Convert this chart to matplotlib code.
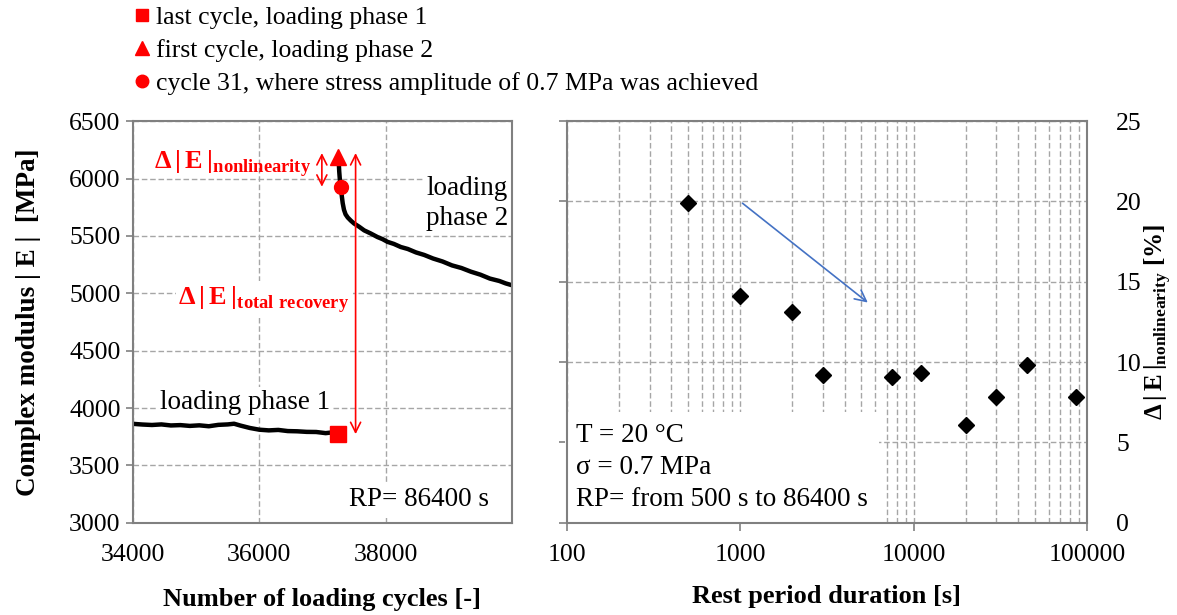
import matplotlib
matplotlib.use("Agg")
import matplotlib.pyplot as plt
from matplotlib.lines import Line2D
from matplotlib.ticker import MultipleLocator, LogLocator, NullFormatter, FixedLocator

plt.rcParams['font.family'] = ['Liberation Serif', 'DejaVu Serif']
plt.rcParams['mathtext.fontset'] = 'custom'
plt.rcParams['mathtext.rm'] = 'Liberation Serif'
plt.rcParams['mathtext.bf'] = 'Liberation Serif:bold'

# left chart: complex modulus vs cycles
cycles_p1 = [34000, 34150, 34300, 34450, 34600, 34750, 34900, 35050, 35200, 35350,
             35500, 35600, 35700, 35850, 36000, 36150, 36300, 36450, 36600, 36750,
             36900, 37050, 37150, 37230]
modulus_p1 = [3862, 3856, 3852, 3857, 3848, 3851, 3844, 3849, 3841, 3853,
              3857, 3863, 3847, 3826, 3811, 3805, 3809, 3799, 3797, 3792,
              3791, 3781, 3787, 3778]
cycles_p2 = [37255, 37265, 37275, 37290, 37305, 37320, 37340, 37365, 37400, 37450,
             37500, 37580, 37660, 37760, 37870, 37950, 38030, 38130, 38240, 38350,
             38480, 38610, 38750, 38900, 39050, 39200, 39350, 39500, 39650, 39800,
             39900, 40000]
modulus_p2 = [6165, 6060, 5990, 5925, 5850, 5785, 5728, 5688, 5660, 5632,
              5608, 5580, 5548, 5522, 5490, 5472, 5448, 5430, 5403, 5386,
              5356, 5334, 5303, 5277, 5243, 5220, 5188, 5162, 5128, 5107,
              5086, 5070]
last_p1 = (37240, 3770)
first_p2 = (37250, 6190)
cycle31 = (37295, 5925)
arrow_nonlin_x, arrow_nonlin_y = 36990, (6246, 5904)
arrow_total_x, arrow_total_y = 37524, (6246, 3748)

# right chart: nonlinearity vs rest period
rest_period = [500, 1000, 2000, 3000, 7500, 11000, 20000, 30000, 45000, 86400]
nonlinearity = [19.9, 14.1, 13.1, 9.2, 9.1, 9.35, 6.1, 7.85, 9.8, 7.85]
trend_start = (1000, 20.0)
trend_end = (5600, 13.6)

legend_labels = ['last cycle, loading phase 1',
                 'first cycle, loading phase 2',
                 'cycle 31, where stress amplitude of 0.7 MPa was achieved']

red = '#ff0000'
gray_spine = '#808080'
grid_kw = dict(color='#a6a6a6', linestyle=(0, (4, 2)), linewidth=1.0)
tick_fs = 18.5

fig = plt.figure(figsize=(11.77, 6.15), dpi=100)
ax1 = fig.add_axes([0.113, 0.150, 0.322, 0.653])
ax2 = fig.add_axes([0.4817, 0.150, 0.4418, 0.653])

for ax in (ax1, ax2):
    for sp in ax.spines.values():
        sp.set_color(gray_spine)
        sp.set_linewidth(1.5)
        sp.set_zorder(6)
    ax.set_axisbelow(True)

# ---- left chart
ax1.plot(cycles_p1, modulus_p1, color='black', lw=3.2, zorder=3)
ax1.plot(cycles_p2, modulus_p2, color='black', lw=3.2, zorder=3)
ax1.plot(*last_p1, marker='s', color=red, ms=11, zorder=4)
ax1.plot(*first_p2, marker='^', color=red, ms=12, zorder=4)
ax1.plot(*cycle31, marker='o', color=red, ms=10, zorder=4)

ax1.annotate('', xy=(arrow_nonlin_x, arrow_nonlin_y[1]), xytext=(arrow_nonlin_x, arrow_nonlin_y[0]),
             arrowprops=dict(arrowstyle='<->', color=red, lw=1.2, mutation_scale=18), zorder=5)
ax1.annotate('', xy=(arrow_total_x, arrow_total_y[1]), xytext=(arrow_total_x, arrow_total_y[0]),
             arrowprops=dict(arrowstyle='<->', color=red, lw=1.2, mutation_scale=18), zorder=5)

ax1.set_xlim(34000, 40000)
ax1.set_ylim(3000, 6500)
ax1.xaxis.set_major_locator(FixedLocator([34000, 36000, 38000]))
ax1.yaxis.set_major_locator(MultipleLocator(500))
ax1.grid(True, **grid_kw)
ax1.tick_params(axis='x', length=0, pad=15, labelsize=tick_fs)
ax1.tick_params(axis='y', direction='out', length=5, width=1.2, color=gray_spine, pad=4, labelsize=tick_fs)
ax1.set_xlabel('Number of loading cycles [-]', fontsize=19, fontweight='bold', labelpad=16)
ax1.set_ylabel('Complex modulus | E |  [MPa]', fontsize=19.5, fontweight='bold', labelpad=20)

white = dict(facecolor='white', edgecolor='none', pad=2)
ax1.text(0.07, 0.30, 'loading phase 1', transform=ax1.transAxes, fontsize=19.5,
         ha='left', va='center', bbox=white, zorder=2)
ax1.text(0.99, 0.795, 'loading\nphase 2', transform=ax1.transAxes, fontsize=19.5,
         ha='right', va='center', linespacing=1.3, bbox=white, zorder=2)
ax1.text(0.94, 0.057, 'RP= 86400 s', transform=ax1.transAxes, fontsize=19.5,
         ha='right', va='center', bbox=dict(facecolor='white', edgecolor='none', pad=4), zorder=2)
ax1.text(0.055, 0.895, r'$\mathbf{Δ\,|\,E\,|}_{\mathbf{nonlinearity}}$', transform=ax1.transAxes,
         fontsize=19, color=red, ha='left', va='center', zorder=2)
ax1.text(0.12, 0.555, r'$\mathbf{Δ\,|\,E\,|}_{\mathbf{total\ recovery}}$', transform=ax1.transAxes,
         fontsize=19, color=red, ha='left', va='center', bbox=white, zorder=2)

# ---- right chart
ax2.plot(rest_period, nonlinearity, ls='none', marker='D', color='black', ms=8, zorder=4)
ax2.annotate('', xy=trend_end, xytext=trend_start,
             arrowprops=dict(arrowstyle='->', color='#4472c4', lw=1.2, mutation_scale=20), zorder=5)
ax2.set_xscale('log')
ax2.set_xlim(100, 100000)
ax2.set_ylim(0, 25)
ax2.yaxis.set_major_locator(MultipleLocator(5))
ax2.xaxis.set_minor_locator(LogLocator(base=10, subs=range(2, 10)))
ax2.xaxis.set_minor_formatter(NullFormatter())
ax2.set_xticks([100, 1000, 10000, 100000])
ax2.set_xticklabels(['100', '1000', '10000', '100000'])
ax2.grid(True, which='major', **grid_kw)
ax2.grid(True, which='minor', axis='x', **grid_kw)
ax2.tick_params(axis='x', which='major', direction='out', length=6, width=1.2,
                color=gray_spine, pad=9, labelsize=tick_fs)
ax2.tick_params(axis='x', which='minor', length=0)
ax2.tick_params(axis='y', left=True, right=False, labelleft=False, labelright=True,
                direction='out', length=6, width=1.2, color=gray_spine, pad=15, labelsize=tick_fs)
ax2.set_xlabel('Rest period duration [s]', fontsize=19, fontweight='bold', labelpad=14)
ax2.yaxis.set_label_position('right')
ax2.set_ylabel(r'$\mathbf{Δ\,|\,E\,|}_{\mathbf{nonlinearity}}$ [%]', fontsize=18,
               fontweight='bold', labelpad=0)
ax2.text(0.018, 0.028, 'T = 20 °C\nσ = 0.7 MPa\nRP= from 500 s to 86400 s',
         transform=ax2.transAxes, fontsize=19.5, ha='left', va='bottom', linespacing=1.35,
         bbox=dict(facecolor='white', edgecolor='none', boxstyle='square,pad=0.4'), zorder=2)

# ---- legend at the top
handles = [Line2D([], [], marker='s', color=red, ls='none', ms=8),
           Line2D([], [], marker='^', color=red, ls='none', ms=10),
           Line2D([], [], marker='o', color=red, ls='none', ms=9)]
fig.legend(handles, legend_labels, loc='upper left', bbox_to_anchor=(0.112, 0.994),
           frameon=False, fontsize=18.5, handlelength=0.6, handletextpad=0.25,
           labelspacing=0.38, borderaxespad=0, borderpad=0.1)

fig.savefig('out.png', dpi=100)
